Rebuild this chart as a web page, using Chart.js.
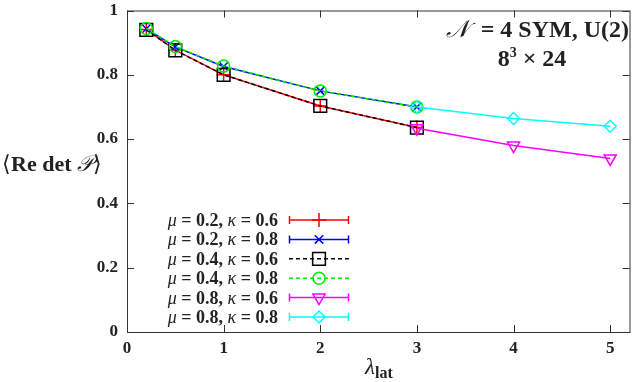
<!DOCTYPE html>
<html>
<head>
<meta charset="utf-8">
<script src="https://cdn.jsdelivr.net/npm/chart.js@4.4.0/dist/chart.umd.min.js"></script>
<style>
  html, body { margin: 0; padding: 0; background: #fff; }
  canvas { display: block; }
</style>
</head>
<body>
<canvas id="grafico" width="640" height="382"></canvas>
<script>
// valores
const lambdaBaixo = [0.2, 0.5, 1, 2, 3];
const lambdaAlto = [3, 4, 5];

const mu02k06 = [0.941, 0.877, 0.800, 0.703, 0.636];
const mu02k08 = [0.943, 0.887, 0.826, 0.750, 0.700];
const mu04k06 = [0.940, 0.876, 0.800, 0.703, 0.636];
const mu04k08 = [0.944, 0.888, 0.827, 0.750, 0.700];
const mu08k06 = [0.634, 0.580, 0.540];
const mu08k08 = [0.700, 0.664, 0.640];

const muLegenda = ['0.2', '0.2', '0.4', '0.4', '0.8', '0.8'];
const kappaLegenda = ['0.6', '0.8', '0.6', '0.8', '0.6', '0.8'];

const xTicks = [0, 1, 2, 3, 4, 5];
const yTicks = [0, 0.2, 0.4, 0.6, 0.8, 1];

const serif = '"Liberation Serif", "Times New Roman", serif';

function pontos(xs, ys) {
    return ys.map((y, i) => ({ x: xs[i], y: y }));
}

const series = [
    { dados: pontos(lambdaBaixo, mu02k06), cor: '#ff0000', estilo: 'cross', raio: 7, rot: 0, tracejado: [], barras: true },
    { dados: pontos(lambdaBaixo, mu02k08), cor: '#0000ff', estilo: 'crossRot', raio: 6, rot: 0, tracejado: [], barras: true },
    { dados: pontos(lambdaBaixo, mu04k06), cor: '#000000', estilo: 'rect', raio: 9, rot: 0, tracejado: [4, 3], barras: false },
    { dados: pontos(lambdaBaixo, mu04k08), cor: '#00ee00', estilo: 'circle', raio: 6, rot: 0, tracejado: [4, 3], barras: false },
    { dados: pontos(lambdaAlto, mu08k06), cor: '#ff00ff', estilo: 'triangle', raio: 7, rot: 180, tracejado: [], barras: true },
    { dados: pontos(lambdaAlto, mu08k08), cor: '#00ffff', estilo: 'rectRot', raio: 6, rot: 0, tracejado: [], barras: true }
];

function desenharPartes(ctx, partes, x, y, alinhar) {
    let total = 0;
    partes.forEach(p => { ctx.font = p[1]; total += ctx.measureText(p[0]).width; });
    let cx = x;
    if (alinhar === 'right') cx = x - total;
    if (alinhar === 'center') cx = x - total / 2;
    partes.forEach(p => {
        ctx.font = p[1];
        ctx.fillText(p[0], cx, y + (p[2] || 0));
        cx += ctx.measureText(p[0]).width;
    });
}

const moldura = {
    id: 'moldura',
    afterDraw(chart) {
        const ctx = chart.ctx;
        const a = chart.chartArea;
        const sx = chart.scales.x, sy = chart.scales.y;
        ctx.save();
        ctx.strokeStyle = '#333';
        ctx.lineWidth = 1;
        ctx.strokeRect(a.left + 0.5, a.top + 0.5, a.right - a.left, a.bottom - a.top);

        // marcas para dentro, espelhadas
        ctx.beginPath();
        sx.ticks.forEach(t => {
            const px = Math.round(sx.getPixelForValue(t.value)) + 0.5;
            ctx.moveTo(px, a.bottom); ctx.lineTo(px, a.bottom - 7);
            ctx.moveTo(px, a.top); ctx.lineTo(px, a.top + 7);
        });
        sy.ticks.forEach(t => {
            const py = Math.round(sy.getPixelForValue(t.value)) + 0.5;
            ctx.moveTo(a.left, py); ctx.lineTo(a.left + 7, py);
            ctx.moveTo(a.right, py); ctx.lineTo(a.right - 7, py);
        });
        ctx.stroke();

        ctx.fillStyle = '#222';
        ctx.textBaseline = 'alphabetic';

        // titulo do eixo y
        desenharPartes(ctx, [
            ['\u27E8', '22px ' + serif],
            ['Re det ', 'bold 22px ' + serif],
            ['\uD835\uDCAB', 'italic 22px ' + serif],
            ['\u27E9', '22px ' + serif]
        ], 2, 171, 'left');

        // titulo do eixo x
        desenharPartes(ctx, [
            ['\u03BB', 'italic 23px ' + serif],
            ['lat', 'bold 16px ' + serif, 4]
        ], 365, 374, 'left');

        // anotacao
        desenharPartes(ctx, [
            ['\uD835\uDCA9', 'italic 24px ' + serif],
            ['  = 4 SYM, U(2)', 'bold 24px ' + serif]
        ], 629, 37, 'right');
        desenharPartes(ctx, [
            ['8', 'bold 24px ' + serif],
            ['3', 'bold 14px ' + serif, -9],
            [' \u00D7 24', 'bold 24px ' + serif]
        ], 532, 66, 'center');

        // legenda
        series.forEach((s, i) => {
            const y = 220 + i * 19.4;
            ctx.fillStyle = '#222';
            desenharPartes(ctx, [
                ['\u03BC', 'italic 18px ' + serif],
                [' = ' + muLegenda[i] + ', ', 'bold 18px ' + serif],
                ['\u03BA', 'italic 18px ' + serif],
                [' = ' + kappaLegenda[i], 'bold 18px ' + serif]
            ], 278, y + 6, 'right');

            ctx.strokeStyle = s.cor;
            ctx.lineWidth = 1.5;
            ctx.setLineDash(s.tracejado);
            ctx.beginPath();
            ctx.moveTo(289, y); ctx.lineTo(349, y);
            ctx.stroke();
            ctx.setLineDash([]);
            if (s.barras) {
                ctx.beginPath();
                ctx.moveTo(289.5, y - 4); ctx.lineTo(289.5, y + 4);
                ctx.moveTo(348.5, y - 4); ctx.lineTo(348.5, y + 4);
                ctx.stroke();
            }
            ctx.fillStyle = 'rgba(0,0,0,0)';
            Chart.helpers.drawPoint(ctx, {
                pointStyle: s.estilo, rotation: s.rot, radius: s.raio, borderWidth: 1.5
            }, 319, y);
        });
        ctx.restore();
    }
};

const ctx = document.getElementById('grafico').getContext('2d');
window.myChart = new Chart(ctx, {
    type: 'scatter',
    data: {
        datasets: series.map((s, i) => ({
            label: 'serie' + i,
            data: s.dados,
            showLine: true,
            borderColor: s.cor,
            backgroundColor: 'rgba(0,0,0,0)',
            borderWidth: 1.5,
            borderDash: s.tracejado,
            pointStyle: s.estilo,
            pointRotation: s.rot,
            pointRadius: s.raio,
            pointBorderWidth: 1.5,
            pointBorderColor: s.cor,
            pointBackgroundColor: 'rgba(0,0,0,0)',
            order: series.length - i
        }))
    },
    options: {
        responsive: false,
        animation: false,
        layout: { padding: { top: 8, right: 8, left: 0, bottom: 0 } },
        plugins: { legend: { display: false }, tooltip: { enabled: false } },
        scales: {
            x: {
                type: 'linear',
                min: 0,
                max: 5.2,
                afterBuildTicks: s => { s.ticks = xTicks.map(v => ({ value: v })); },
                afterFit: s => { s.height = 50; s.paddingLeft = 0; s.paddingRight = 0; },
                grid: { display: false, drawTicks: false },
                border: { display: false },
                ticks: {
                    padding: 6,
                    color: '#222',
                    font: { family: serif, size: 17, weight: 'bold' },
                    callback: v => String(v)
                }
            },
            y: {
                min: 0,
                max: 1,
                afterBuildTicks: s => { s.ticks = yTicks.map(v => ({ value: v })); },
                afterFit: s => { s.width = 127; s.paddingTop = 0; s.paddingBottom = 0; },
                grid: { display: false, drawTicks: false },
                border: { display: false },
                ticks: {
                    padding: 9,
                    color: '#222',
                    font: { family: serif, size: 17, weight: 'bold' },
                    callback: v => (v === 0 || v === 1) ? String(v) : v.toFixed(1)
                }
            }
        }
    },
    plugins: [moldura]
});
</script>
</body>
</html>
